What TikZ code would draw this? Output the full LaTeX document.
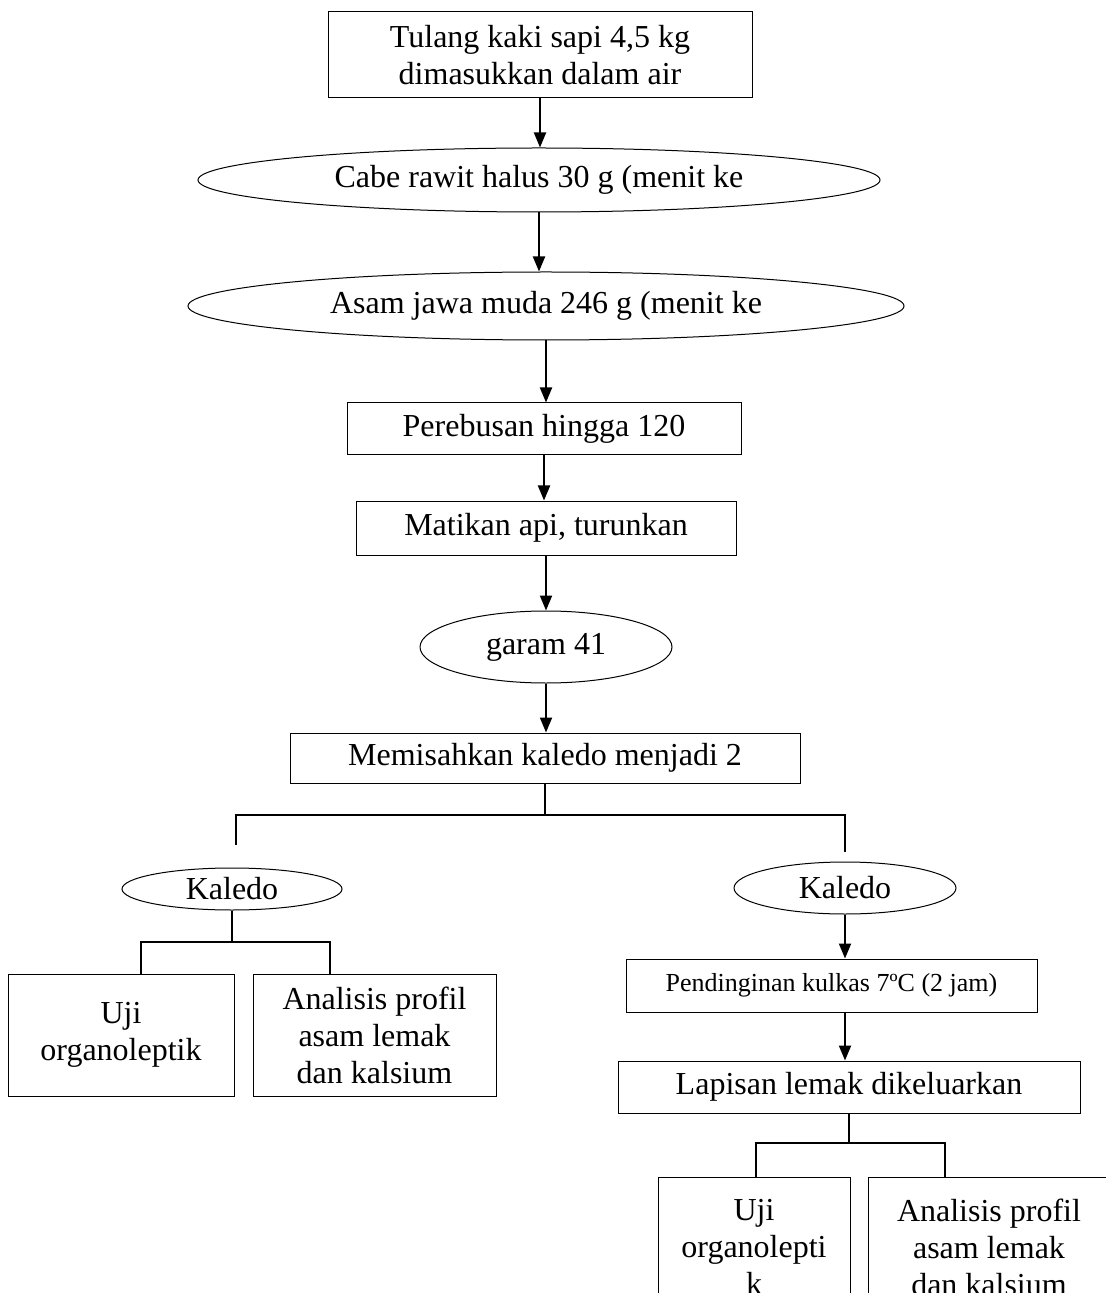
\documentclass[tikz,border=0pt]{standalone}
\usepackage{fontspec}
\setmainfont{Liberation Serif}
\usetikzlibrary{shapes.geometric,arrows.meta,positioning}
\tikzset{
  box/.style={
    shape = rectangle,
    draw,
    line width=0.5pt,
    inner sep=0pt,
    align=center,
    font=\fontsize{16}{18.5}\selectfont
  },
  oval/.style={
    shape = ellipse,
    draw,
    line width=0.5pt,
    inner sep=0pt,
    font=\fontsize{16}{18.5}\selectfont
  },
  flow/.style={
    line width=1pt,
    -{Triangle[width=6pt,length=7.5pt]}
  },
  branch/.style={
    line width=1pt
  }
}

\begin{document}
\begin{tikzpicture}[x=0.5pt,y=-0.5pt]
    \useasboundingbox (0,0) rectangle (1105,1293);
        % main line
        \node[box, minimum width=212pt, minimum height=43pt] (tulang) at (540,55) {Tulang kaki sapi 4,5 kg\\dimasukkan dalam air};
        \node[oval, minimum width=341pt, minimum height=32pt] (cabe) at (539,180) {Cabe rawit halus 30 g (menit ke};
        \node[oval, minimum width=358pt, minimum height=34pt] (asam) at (546,306) {Asam jawa muda 246 g (menit ke};
        \node[box, minimum width=197pt, minimum height=26pt] (rebus) at (544,429) {Perebusan hingga 120};
        \node[box, minimum width=190pt, minimum height=27pt] (matikan) at (546,528) {Matikan api, turunkan};
        \node[oval, minimum width=126pt, minimum height=36pt] (garam) at (546,647) {garam 41};
        \node[box, minimum width=255pt, minimum height=25pt] (pisah) at (545,758) {Memisahkan kaledo menjadi 2};
        \foreach \a/\b in {tulang/cabe, cabe/asam, asam/rebus, rebus/matikan, matikan/garam, garam/pisah}{
        \draw[flow] (\a.south) -- (\a.south |- \b.north);
        }
        % split
        \coordinate (barL) at (236,815);
        \coordinate (barR) at (845,815);
        \coordinate (legL) at (236,845);
        \coordinate (legR) at (845,852);
        \draw[branch] (pisah.south) -- (pisah.south |- barL);
        \draw[branch] (legL) -- (barL) -- (barR) -- (legR);
        % left
        \node[oval, minimum width=110pt, minimum height=21pt] (kaledoL) at (232,889) {Kaledo};
        \node[box, minimum width=113pt, minimum height=61pt] (ujiL) at (121,1035) {Uji\\organoleptik};
        \node[box, minimum width=121.5pt, minimum height=61pt] (analisisL) at (374.5,1035) {Analisis profil\\asam lemak\\dan kalsium};
        \coordinate (forkLa) at (141,942);
        \coordinate (forkLb) at (330,942);
        \draw[branch] (kaledoL.south) -- (kaledoL.south |- forkLa);
        \draw[branch] (ujiL.north -| forkLa) -- (forkLa) -- (forkLb) -- (analisisL.north -| forkLb);
        % right
        \node[oval, minimum width=111pt, minimum height=26pt] (kaledoR) at (845,888) {Kaledo};
        \node[box, minimum width=205.5pt, minimum height=26.5pt, font=\fontsize{13}{15}\selectfont] (dingin) at (831.5,985.5) {Pendinginan kulkas 7ºC (2 jam)};
        \node[box, minimum width=231pt, minimum height=26pt] (lapisan) at (849,1087) {Lapisan lemak dikeluarkan};
        \draw[flow] (kaledoR.south) -- (kaledoR.south |- dingin.north);
        \draw[flow] (kaledoR.south |- dingin.south) -- (kaledoR.south |- lapisan.north);
        \node[box, minimum width=96pt, minimum height=70pt] (ujiR) at (754,1247) {Uji\\organolepti\\k};
        \node[box, minimum width=121pt, minimum height=70pt] (analisisR) at (989,1247) {Analisis profil\\asam lemak\\dan kalsium};
        \coordinate (forkRa) at (756,1143);
        \coordinate (forkRb) at (945,1143);
        \draw[branch] (lapisan.south) -- (lapisan.south |- forkRa);
        \draw[branch] (ujiR.north -| forkRa) -- (forkRa) -- (forkRb) -- (analisisR.north -| forkRb);
    \end{tikzpicture}
\end{document}
